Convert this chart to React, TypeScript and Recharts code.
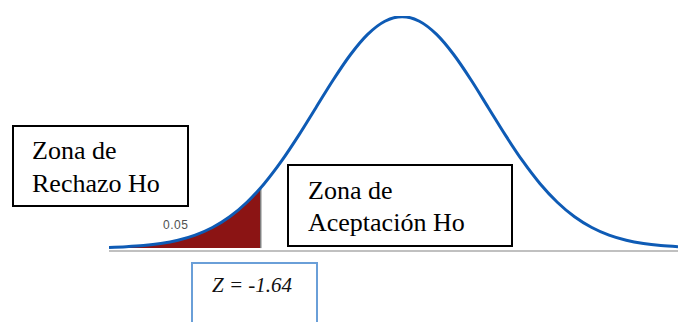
import React from "react";
import {
  ComposedChart,
  Line,
  Area,
  XAxis,
  YAxis,
  ReferenceLine,
} from "recharts";

// z positions along the horizontal axis
const zValues = [
  -3.4, -3.2, -3.0, -2.8, -2.6, -2.4, -2.2, -2.0, -1.8, -1.64, -1.6, -1.4, -1.2,
  -1.0, -0.8, -0.6, -0.4, -0.2, 0, 0.2, 0.4, 0.6, 0.8, 1.0, 1.2, 1.4, 1.6, 1.8,
  2.0, 2.2, 2.4, 2.6, 2.8, 3.0, 3.2,
];
// curve heights
const curveValues = [
  0.0012, 0.0024, 0.0044, 0.0079, 0.0136, 0.0224, 0.0355, 0.054, 0.079, 0.104,
  0.1109, 0.1497, 0.1942, 0.242, 0.2897, 0.3332, 0.3683, 0.391, 0.3989, 0.391,
  0.3683, 0.3332, 0.2897, 0.242, 0.1942, 0.1497, 0.1109, 0.079, 0.054, 0.0355,
  0.0224, 0.0136, 0.0079, 0.0044, 0.0024,
];
const zCritical = -1.64;
const tailLabel = "0.05";
const rejectLines = ["Zona de", "Rechazo Ho"];
const acceptLines = ["Zona de", "Aceptación Ho"];
const zLabel = "Z = -1.64";
const yDomain = [-0.005, 0.4];

const data = zValues.map((z, i) => ({
  z,
  curve: curveValues[i],
  tail: z <= zCritical ? curveValues[i] : null,
}));
const critHeight = curveValues[zValues.indexOf(zCritical)];

const serif = "'Liberation Serif', 'Times New Roman', Times, serif";

export default function App() {
  return (
    <div
      style={{
        position: "absolute",
        left: 0,
        top: 0,
        width: 678,
        height: 322,
        background: "#fff",
        overflow: "hidden",
      }}
    >
      <ComposedChart
        width={678}
        height={322}
        data={data}
        margin={{ top: 16, right: 0, bottom: 71, left: 109 }}
      >
        <XAxis
          type="number"
          dataKey="z"
          domain={[-3.4, 3.2]}
          allowDataOverflow
          hide
        />
        <YAxis hide domain={yDomain} allowDataOverflow />
        <ReferenceLine y={yDomain[0]} stroke="#c0c0c0" strokeWidth={2} />
        <Area
          type="monotone"
          dataKey="tail"
          baseValue={0}
          fill="#8B1414"
          fillOpacity={1}
          stroke="none"
          isAnimationActive={false}
          connectNulls={false}
        />
        <ReferenceLine
          segment={[
            { x: zCritical, y: 0 },
            { x: zCritical, y: critHeight },
          ]}
          stroke="#808080"
          strokeWidth={1.5}
        />
        <Line
          type="monotone"
          dataKey="curve"
          stroke="#0E5BB5"
          strokeWidth={3}
          dot={false}
          isAnimationActive={false}
        />
      </ComposedChart>

      {/* Rechazo box */}
      <div
        style={{
          position: "absolute",
          left: 12,
          top: 125,
          width: 177,
          height: 82,
          boxSizing: "border-box",
          border: "2px solid #000",
          background: "#fff",
        }}
      />
      <div
        style={{
          position: "absolute",
          left: 32,
          top: 134,
          fontFamily: serif,
          fontSize: 26,
          lineHeight: "33px",
          color: "#000",
          whiteSpace: "nowrap",
        }}
      >
        {rejectLines.map((l) => (
          <div key={l}>{l}</div>
        ))}
      </div>

      {/* Aceptacion box */}
      <div
        style={{
          position: "absolute",
          left: 287,
          top: 164,
          width: 226,
          height: 83,
          boxSizing: "border-box",
          border: "2px solid #000",
          background: "#fff",
        }}
      />
      <div
        style={{
          position: "absolute",
          left: 308,
          top: 175,
          fontFamily: serif,
          fontSize: 26,
          lineHeight: "32px",
          color: "#000",
          whiteSpace: "nowrap",
        }}
      >
        {acceptLines.map((l) => (
          <div key={l}>{l}</div>
        ))}
      </div>

      {/* Z box */}
      <div
        style={{
          position: "absolute",
          left: 191,
          top: 262,
          width: 127,
          height: 80,
          boxSizing: "border-box",
          border: "2px solid #6A9FD8",
          background: "#fff",
        }}
      />
      <div
        style={{
          position: "absolute",
          left: 212,
          top: 275,
          fontFamily: serif,
          fontStyle: "italic",
          fontSize: 21,
          lineHeight: "21px",
          color: "#111",
          whiteSpace: "nowrap",
        }}
      >
        {zLabel}
      </div>

      {/* tail probability */}
      <div
        style={{
          position: "absolute",
          left: 163,
          top: 219,
          fontFamily: "'Liberation Sans', Arial, sans-serif",
          fontSize: 12,
          lineHeight: "13px",
          letterSpacing: 0.5,
          color: "#505050",
          whiteSpace: "nowrap",
        }}
      >
        {tailLabel}
      </div>
    </div>
  );
}
